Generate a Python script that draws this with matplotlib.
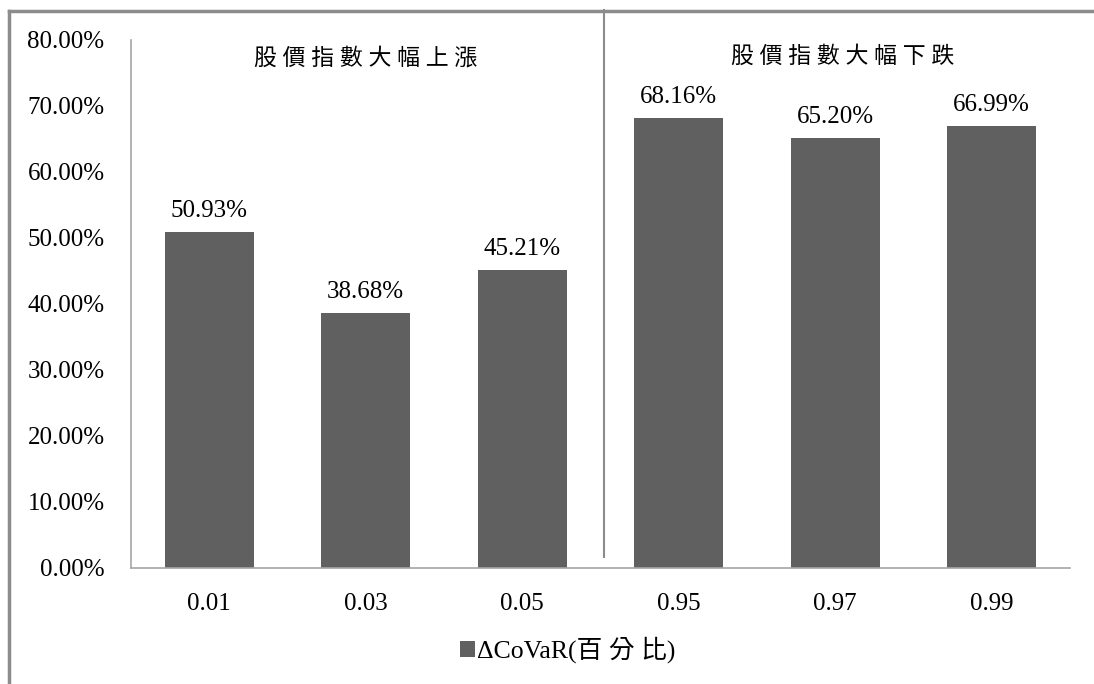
import matplotlib
matplotlib.use("Agg")
import matplotlib.pyplot as plt
from matplotlib.lines import Line2D
from matplotlib.patches import Patch
from matplotlib.ticker import FuncFormatter

# 資料
quantiles = ['0.01', '0.03', '0.05', '0.95', '0.97', '0.99']
delta_covar = [50.93, 38.68, 45.21, 68.16, 65.20, 66.99]
group_titles = ['股 價 指 數 大 幅 上 漲', '股 價 指 數 大 幅 下 跌']
legend_label = 'ΔCoVaR(百 分 比)'
y_ticks = [0, 10, 20, 30, 40, 50, 60, 70, 80]

fonts = ['Liberation Serif', 'Noto Sans CJK TC', 'DejaVu Sans']
plt.rcParams['font.family'] = fonts

W, H = 1094, 684
fig = plt.figure(figsize=(W / 100, H / 100), dpi=100)
ax = fig.add_axes([131 / W, 1 - 568 / H, (1070 - 131) / W, (568 - 40) / H])

bar_color = '#606060'
grey = '#8c8c8c'

x = list(range(len(quantiles)))
bars = ax.bar(x, delta_covar, width=0.57, color=bar_color, label=legend_label)
ax.bar_label(bars, labels=[f'{v:.2f}%' for v in delta_covar], padding=7, fontsize=18)

ax.set_xlim(-0.5, len(quantiles) - 0.5)
ax.set_ylim(0, 80)
ax.set_yticks(y_ticks)
ax.yaxis.set_major_formatter(FuncFormatter(lambda v, p: f'{v:.2f}%'))
ax.set_xticks(x)
ax.set_xticklabels(quantiles)
ax.tick_params(axis='both', length=0, labelsize=18)
ax.tick_params(axis='y', pad=19)
ax.tick_params(axis='x', pad=18)

for s in ['top', 'right']:
    ax.spines[s].set_visible(False)
ax.spines['left'].set_color('#a6a6a6')
ax.spines['bottom'].set_color('#a6a6a6')
ax.spines['left'].set_linewidth(1.2)
ax.spines['bottom'].set_linewidth(1.2)

# 分隔線
ax.axvline(2.52, ymin=0.021, ymax=1.057, color=grey, lw=1.5, clip_on=False)

# 區段標題
ax.text(1.0, 77.2, group_titles[0], ha='center', va='center', fontsize=16.5)
ax.text(4.05, 77.5, group_titles[1], ha='center', va='center', fontsize=16.5)

# 外框
fig.add_artist(Line2D([8.5 / W, 8.5 / W], [0, 1 - 10.5 / H], color=grey, lw=2.5))
fig.add_artist(Line2D([8.5 / W, 1], [1 - 10.5 / H, 1 - 10.5 / H], color=grey, lw=2.5))

handle = Patch(facecolor=bar_color, edgecolor='none')
fig.legend([handle], [legend_label], loc='center', bbox_to_anchor=(568 / W, 1 - 650 / H),
           frameon=False, fontsize=18, handlelength=0.55, handleheight=0.55,
           handletextpad=0.1, prop={'size': 18.5})

fig.savefig('out.png', dpi=100)
